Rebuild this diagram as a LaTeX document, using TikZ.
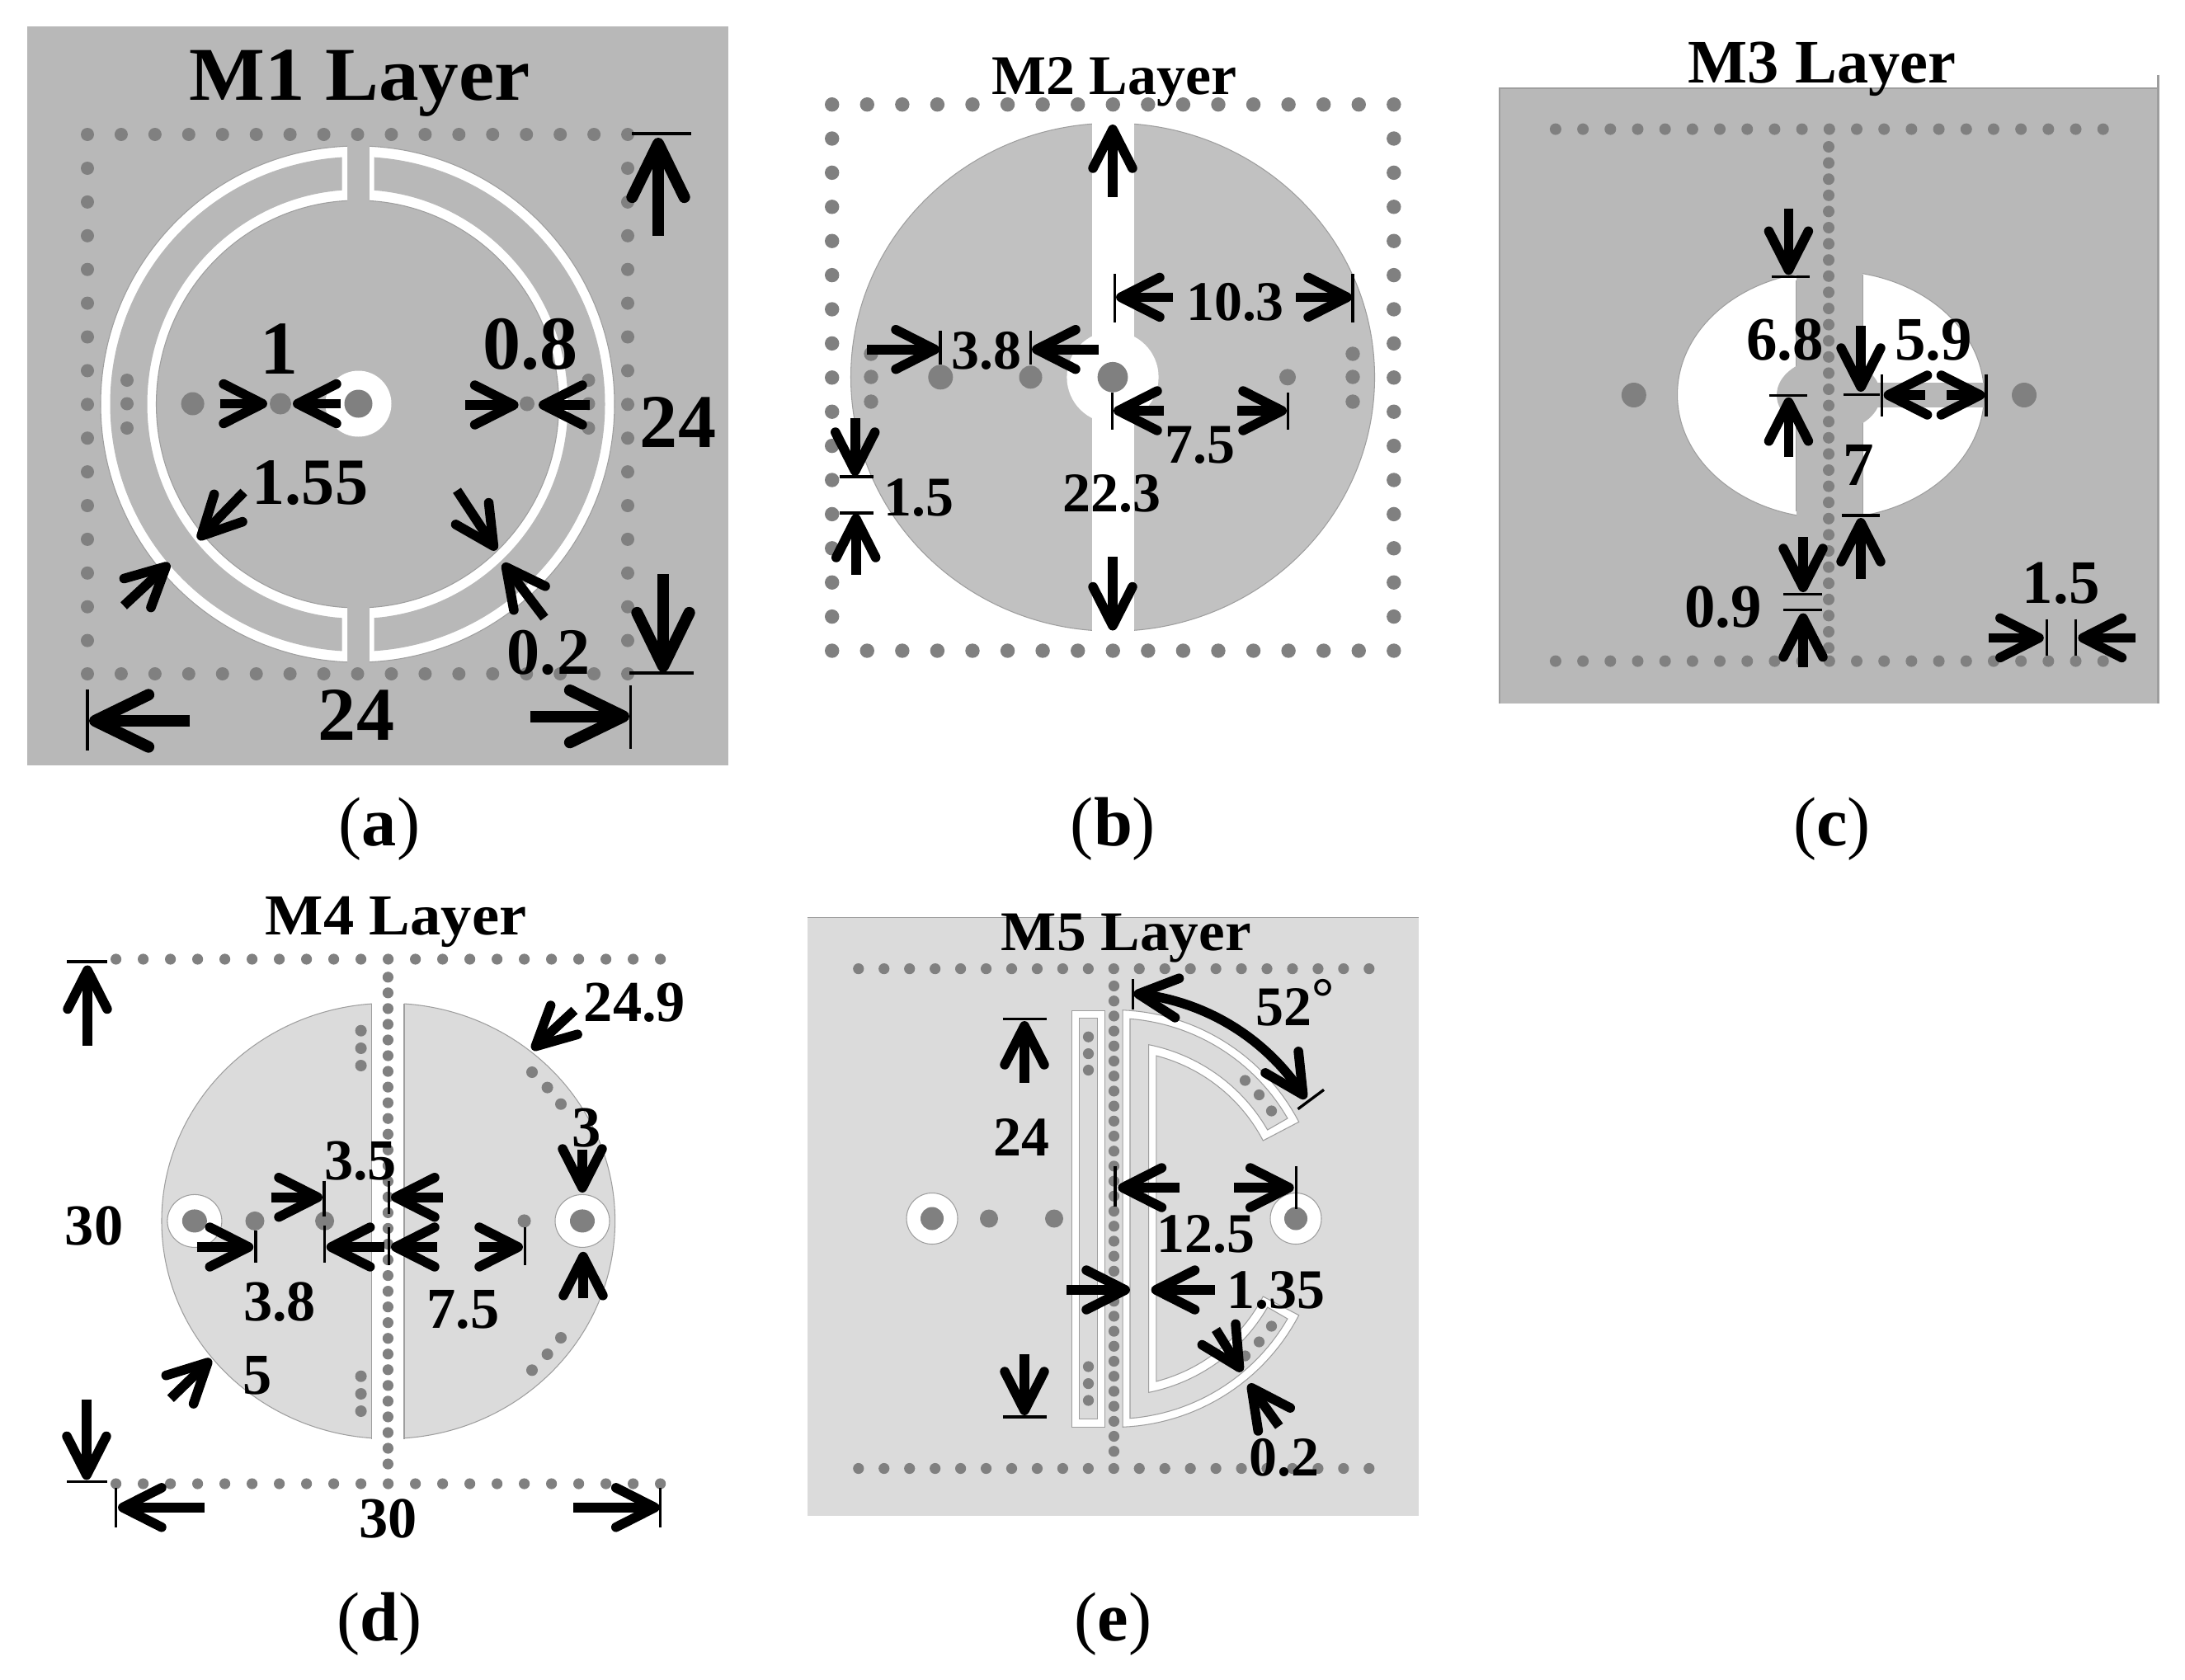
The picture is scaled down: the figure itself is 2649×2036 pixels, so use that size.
\documentclass[tikz,border=0pt]{standalone}
\usepackage{fontspec}
\setmainfont{Liberation Serif}
\usetikzlibrary{arrows.meta}
\definecolor{bgdark}{gray}{0.72}
\definecolor{bgmid}{gray}{0.755}
\definecolor{bglight}{gray}{0.86}
\definecolor{viac}{gray}{0.5}
\definecolor{edgec}{gray}{0.62}
\tikzset{
  via/.style={fill=viac},
  tick/.style={line width=0.95pt,black},
  bigarr/.style={line width=4pt,black,-{Straight Barb[length=18.5pt,width=18pt,round]}},
  midarr/.style={line width=3.3pt,black,-{Straight Barb[length=13.4pt,width=13.6pt,round]}},
  lbl/.style={anchor=base,inner sep=0pt,outer sep=0pt,text=black},
  la/.style={lbl,font=\fontsize{26.2pt}{30pt}\selectfont\bfseries},
  las/.style={lbl,font=\fontsize{22.8pt}{26pt}\selectfont\bfseries},
  lb/.style={lbl,font=\fontsize{19.3pt}{22pt}\selectfont\bfseries},
  lc/.style={lbl,font=\fontsize{21.3pt}{24pt}\selectfont\bfseries},
  ld/.style={lbl,font=\fontsize{20pt}{23pt}\selectfont\bfseries},
  le/.style={lbl,font=\fontsize{19.3pt}{22pt}\selectfont\bfseries},
  subcap/.style={lbl,font=\fontsize{24pt}{28pt}\selectfont},
}
\newcommand\viarow[6]{\foreach \k in {0,...,#5} \fill[via] ({#1+#3*\k},{#2+#4*\k}) circle[radius=#6];}
\begin{document}
\begin{tikzpicture}[x=0.01cm,y=-0.01cm]
\useasboundingbox[fill=white] (0,0) rectangle (2649,2036);

% ================= (a) M1
\fill[bgdark] (32.5,32) rectangle (883,928);
\begin{scope}
  \clip (100,100) rectangle (421,880);
  \path[fill=white,draw=edgec,line width=.3pt,even odd rule] (433.5,490) ellipse[x radius=311.5,y radius=313] (433.5,490) ellipse[x radius=244,y radius=247];
\end{scope}
\begin{scope}
  \clip (448,100) rectangle (780,880);
  \path[fill=white,draw=edgec,line width=.3pt,even odd rule] (433.5,490) ellipse[x radius=311.5,y radius=313] (433.5,490) ellipse[x radius=244,y radius=247];
\end{scope}
\begin{scope}
  \clip (100,100) rectangle (414.5,880);
  \path[fill=bgdark,even odd rule] (433.5,490) ellipse[x radius=300,y radius=300] (433.5,490) ellipse[x radius=255,y radius=260];
\end{scope}
\begin{scope}
  \clip (453.5,100) rectangle (780,880);
  \path[fill=bgdark,even odd rule] (433.5,490) ellipse[x radius=300,y radius=300] (433.5,490) ellipse[x radius=255,y radius=260];
\end{scope}
\viarow{106}{163}{40.94}{0}{16}{8}
\viarow{106}{817}{40.94}{0}{16}{8}
\viarow{106}{204}{0}{40.9}{14}{8}
\viarow{761}{204}{0}{40.9}{14}{8}
\fill[white] (434.5,489.5) circle[radius=40];
\fill[via] (434.5,489.5) circle[radius=17];
\fill[via] (233.6,489.5) circle[radius=14];
\fill[via] (340,489.5) circle[radius=13];
\fill[via] (639,489.5) circle[radius=9];
\foreach \yy in {461,489.5,519}{\fill[via] (154,\yy) circle[radius=8];\fill[via] (713.5,\yy) circle[radius=8];}
\draw[tick] (766,162) -- (838,162);
\draw[tick] (763,816) -- (841,816);
\draw[tick] (106,836) -- (106,910);
\draw[tick] (764.6,831) -- (764.6,908);
\draw[bigarr] (798,286) -- (798,167);
\draw[bigarr] (804,696) -- (804,815);
\draw[bigarr] (230,874) -- (108,874);
\draw[bigarr] (643,868.6) -- (763,868.6);
\draw[midarr] (267,489.5) -- (324,489.5);
\draw[midarr] (413,489.5) -- (355,489.5);
\draw[midarr] (564,491) -- (628.6,491);
\draw[midarr] (715,491) -- (653,491);
\draw[midarr] (295.6,596.6) -- (240,654);
\draw[midarr] (150,734.5) -- (205.5,683);
\draw[midarr] (554,594.6) -- (601.6,667);
\draw[midarr] (660,749) -- (610,683);
\node[la,xscale=1.056] (ta) at (436,121.5) {M1 Layer};
\node[la] (a1) at (339,453) {1};
\node[la] (a2) at (643,447) {0.8};
\node[la] (a3) at (822,542) {24};
\node[las] (a4) at (376,611) {1.55};
\node[las] (a5) at (665,817) {0.2};
\node[la] (a6) at (432,897) {24};
\node[subcap] (capa) at (460,1025) {(\textbf{a})};

% ================= (b) M2
\fill[bgmid] (1349,457.3) ellipse[x radius=317.5,y radius=308];
\draw[edgec,line width=.3pt] (1349,457.3) ellipse[x radius=317.5,y radius=308];
\fill[white] (1324,140) rectangle (1374.5,775);
\fill[white] (1349,457.3) circle[radius=55.6];
\viarow{1008.7}{126.7}{42.57}{0}{16}{8.7}
\viarow{1008.7}{789}{42.57}{0}{16}{8.7}
\viarow{1008.7}{168}{0}{41.4}{14}{8.7}
\viarow{1689.8}{168}{0}{41.4}{14}{8.7}
\fill[via] (1349,457.3) circle[radius=18.4];
\fill[via] (1140.3,457.3) circle[radius=15];
\fill[via] (1249.5,457.3) circle[radius=14];
\fill[via] (1561,457.3) circle[radius=10];
\foreach \yy in {429,457,487}{\fill[via] (1056,\yy) circle[radius=8.7];\fill[via] (1640,\yy) circle[radius=8.7];}
\draw[tick] (1351.5,332) -- (1351.5,391);
\draw[tick] (1640,332) -- (1640,391);
\draw[tick] (1140,401) -- (1140,442);
\draw[tick] (1249.5,401) -- (1249.5,442);
\draw[tick] (1348.5,476) -- (1348.5,521);
\draw[tick] (1561.7,476) -- (1561.7,521);
\draw[tick] (1018,578) -- (1058.7,578);
\draw[tick] (1018,622) -- (1058.7,622);
\draw[midarr] (1349,239) -- (1349,151);
\draw[midarr] (1349,675) -- (1349,764.5);
\draw[midarr] (1422,360.4) -- (1353,360.4);
\draw[midarr] (1571,360.4) -- (1639,360.4);
\draw[midarr] (1051,423.7) -- (1139,423.7);
\draw[midarr] (1331.6,423.7) -- (1251,423.7);
\draw[midarr] (1410.7,498) -- (1350,498);
\draw[midarr] (1500,498) -- (1560,498);
\draw[midarr] (1036.7,507) -- (1036.7,577);
\draw[midarr] (1037.7,696.6) -- (1037.7,623);
\node[lb,xscale=1.03] (tb) at (1351,114) {M2 Layer};
\node[lb] (b1) at (1497.5,388) {10.3};
\node[lb] (b2) at (1196,447) {3.8};
\node[lb] (b3) at (1455,561.4) {7.5};
\node[lb] (b4) at (1114,625.7) {1.5};
\node[lb] (b5) at (1348,620.6) {22.3};
\node[subcap] (capb) at (1349.5,1025) {(\textbf{b})};

% ================= (c) M3
\fill[bgdark] (1818.4,106.7) rectangle (2616.5,853);
\draw[edgec,line width=.6pt] (1818.4,853) -- (1818.4,106.7) -- (2616.5,106.7);
\draw[edgec,line width=.6pt] (2616.5,90.5) -- (2616.5,853);
\path[fill=white,draw=edgec,line width=.3pt] (2219.5,478.5) ellipse[x radius=186,y radius=150];
\fill[bgdark] (2177.7,320) rectangle (2258.3,640);
\draw[edgec,line width=.3pt] (2177.7,340) -- (2177.7,620) (2258.3,333) -- (2258.3,624);
\path[fill=bgdark] (2217,479) ellipse[x radius=63,y radius=45];
\fill[bgdark] (2270,464) rectangle (2405,494);
\viarow{1885.9}{156.6}{33.19}{0}{20}{7}
\viarow{1885.9}{801.6}{33.19}{0}{20}{7}
\viarow{2217}{178}{0}{19.6}{31}{7}
\fill[via] (1980.8,479) circle[radius=15];
\fill[via] (2454,479) circle[radius=15];
\draw[tick] (2147.5,335.4) -- (2194,335.4);
\draw[tick] (2144.8,479.6) -- (2191.4,479.6);
\draw[tick] (2235,478.5) -- (2279,478.5);
\draw[tick] (2281.4,453.6) -- (2281.4,505);
\draw[tick] (2408,453.6) -- (2408,505);
\draw[tick] (2232.5,625) -- (2279,625);
\draw[tick] (2162,720.8) -- (2209,720.8);
\draw[tick] (2162,739.8) -- (2209,739.8);
\draw[tick] (2481.6,750.6) -- (2481.6,795);
\draw[tick] (2516.7,750.6) -- (2516.7,795);
\draw[midarr] (2168.4,253) -- (2168.4,333.3);
\draw[midarr] (2168.4,554) -- (2168.4,481.8);
\draw[midarr] (2256,395) -- (2256,475);
\draw[midarr] (2334,479) -- (2283.6,479);
\draw[midarr] (2360,479) -- (2406.4,479);
\draw[midarr] (2256,702) -- (2256,628);
\draw[midarr] (2186,651.4) -- (2186,718);
\draw[midarr] (2186,808.6) -- (2186,743.6);
\draw[midarr] (2410.8,773.4) -- (2477.8,773.4);
\draw[midarr] (2589,773.4) -- (2519.4,773.4);
\node[lc,xscale=1.02] (tc) at (2209,100) {M3 Layer};
\node[lc] (c1) at (2164,436) {6.8};
\node[lc] (c2) at (2344,436) {5.9};
\node[lc] (c3) at (2253,588) {7};
\node[lc] (c4) at (2088.8,760) {0.9};
\node[lc] (c5) at (2498.6,731) {1.5};
\node[subcap] (capc) at (2221,1025) {(\textbf{c})};

% ================= (d) M4
\path[fill=bglight,draw=edgec,line width=.3pt] (470.8,1480.4) ellipse[x radius=274.8,y radius=264];
\fill[white] (450.8,1205) rectangle (490,1755);
\draw[edgec,line width=.3pt] (450.8,1216.5) -- (450.8,1744.5) (490,1216.5) -- (490,1744.5);
\viarow{140.6}{1163}{33}{0}{20}{6.6}
\viarow{140.6}{1799}{33}{0}{20}{6.6}
\viarow{470.4}{1184.8}{0}{19.04}{31}{6.6}
\path[fill=white,draw=edgec,line width=.3pt] (235.9,1480.4) ellipse[x radius=33,y radius=32];
\path[fill=white,draw=edgec,line width=.3pt] (706,1480.4) ellipse[x radius=33,y radius=32];
\fill[via] (235.9,1480.4) ellipse[x radius=15,y radius=14];
\fill[via] (706,1480.4) ellipse[x radius=15,y radius=14];
\fill[via] (309,1480.4) circle[radius=11.5];
\fill[via] (393.6,1480.4) circle[radius=11.5];
\fill[via] (635.6,1480.4) circle[radius=8];
\foreach \yy in {1249.7,1271,1292,1668.7,1690,1711}{\fill[via] (437.6,\yy) circle[radius=7];}
\foreach \xx/\yy in {645/1300,663.6/1318.6,680/1338.7,645/1661.3,663.6/1642,680/1622}{\fill[via] (\xx,\yy) circle[radius=7];}
\draw[tick] (81,1166) -- (130,1166);
\draw[tick] (81,1796.7) -- (130,1796.7);
\draw[tick] (140.6,1803.6) -- (140.6,1852);
\draw[tick] (800.7,1803.6) -- (800.7,1852);
\draw[tick] (393,1431.7) -- (393,1474.7);
\draw[tick] (471.4,1431.7) -- (471.4,1472);
\draw[tick] (310,1492) -- (310,1531);
\draw[tick] (393.6,1486) -- (393.6,1531);
\draw[tick] (471.4,1488) -- (471.4,1534);
\draw[tick] (636.6,1488) -- (636.6,1534);
\draw[midarr] (106,1268) -- (106,1170.5);
\draw[midarr] (105,1697) -- (105,1794.4);
\draw[midarr] (247.5,1827.8) -- (143,1827.8);
\draw[midarr] (695.4,1827.8) -- (799.7,1827.8);
\draw[midarr] (328.5,1451.7) -- (391,1451.7);
\draw[midarr] (536.6,1451.7) -- (474,1451.7);
\draw[midarr] (238.5,1512) -- (307.3,1512);
\draw[midarr] (466,1512) -- (395.7,1512);
\draw[midarr] (529.7,1512) -- (474,1512);
\draw[midarr] (581,1512) -- (634,1512);
\draw[midarr] (706,1394) -- (706,1446);
\draw[midarr] (707,1574) -- (707,1517.8);
\draw[midarr] (696.4,1225) -- (645,1272.6);
\draw[midarr] (206.8,1695.7) -- (256,1648);
\node[ld,xscale=1.06] (td) at (480,1133) {M4 Layer};
\node[ld] (d1) at (114,1509) {30};
\node[ld] (d2) at (470.4,1864) {30};
\node[ld] (d3) at (437,1430.5) {3.5};
\node[ld] (d4) at (339,1601) {3.8};
\node[ld] (d5) at (561.4,1610.8) {7.5};
\node[ld] (d6) at (769.5,1238.2) {24.9};
\node[ld] (d7) at (711,1390) {3};
\node[ld] (d8) at (311.6,1690) {5};
\node[subcap] (capd) at (460,1989) {(\textbf{d})};

% ================= (e) M5
\fill[bglight] (978.7,1112.4) rectangle (1720,1837.8);
\draw[edgec,line width=.5pt] (978.7,1112.4) -- (1720,1112.4);
\path[fill=white,draw=edgec,line width=.3pt] (1299.6,1225.3) rectangle (1339.9,1730.3);
\path[fill=bglight,draw=edgec,line width=.3pt] (1308.8,1234.3) rectangle (1330.6,1720.8);
\def\ecx{1350.5}\def\ecy{1477.5}
\path[fill=white,draw=edgec,line width=.3pt]
  plot[domain=87.6:27.6,samples=30] ({\ecx+253*cos(\x)},{\ecy-253*sin(\x)})
  -- plot[domain=27.6:75.4,samples=30] ({\ecx+204*cos(\x)},{\ecy-204*sin(\x)})
  -- plot[domain=-75.4:-27.6,samples=30] ({\ecx+204*cos(\x)},{\ecy-204*sin(\x)})
  -- plot[domain=-27.6:-87.6,samples=30] ({\ecx+253*cos(\x)},{\ecy-253*sin(\x)}) -- cycle;
\path[fill=bglight,draw=edgec,line width=.3pt]
  plot[domain=85.4:30,samples=30] ({\ecx+243*cos(\x)},{\ecy-243*sin(\x)})
  -- plot[domain=30:78.7,samples=30] ({\ecx+215*cos(\x)},{\ecy-215*sin(\x)})
  -- plot[domain=-78.7:-30,samples=30] ({\ecx+215*cos(\x)},{\ecy-215*sin(\x)})
  -- plot[domain=-30:-85.4,samples=30] ({\ecx+243*cos(\x)},{\ecy-243*sin(\x)}) -- cycle;
\viarow{1040.8}{1174.6}{30.95}{0}{20}{6.6}
\viarow{1040.8}{1780.5}{30.95}{0}{20}{6.6}
\viarow{1350.5}{1195.5}{0}{18.2}{31}{6.6}
\foreach \yy in {1257.2,1277.6,1297.5,1657,1677.6,1698}{\fill[via] (1319.5,\yy) circle[radius=6.6];}
\foreach \xx/\yy in {1509.5/1310,1526.5/1327.5,1541.5/1347,1509.5/1644,1526.5/1627,1541.5/1608}{\fill[via] (\xx,\yy) circle[radius=6.6];}
\path[fill=white,draw=edgec,line width=.3pt] (1130,1477.5) circle[radius=31];
\path[fill=white,draw=edgec,line width=.3pt] (1571,1477.5) circle[radius=31];
\fill[via] (1130,1477.5) circle[radius=14];
\fill[via] (1571,1477.5) circle[radius=14];
\fill[via] (1199,1477.5) circle[radius=11];
\fill[via] (1278,1477.5) circle[radius=11];
\draw[tick] (1215.8,1235.8) -- (1269,1235.8);
\draw[tick] (1215.8,1717.9) -- (1269,1717.9);
\draw[tick] (1352,1414) -- (1352,1463);
\draw[tick] (1571.5,1414) -- (1571.5,1465.6);
\draw[tick] (1373.8,1187) -- (1373.8,1224.3);
\draw[tick] (1573.5,1344.7) -- (1605,1321.3);
\draw[midarr] (1242,1312.9) -- (1242,1238);
\draw[midarr] (1242,1642) -- (1242,1716);
\draw[midarr] (1429.5,1440) -- (1355.4,1440);
\draw[midarr] (1496,1440) -- (1568.7,1440);
\draw[midarr] (1293,1564) -- (1370,1564);
\draw[midarr] (1472.7,1564) -- (1395.6,1564);
\draw[midarr] (1550.7,1729.3) -- (1513.9,1678);
\draw[midarr] (1474,1612) -- (1505.6,1663);
\draw[line width=3.3pt,black,{Straight Barb[length=13.4pt,width=13.6pt,round]}-{Straight Barb[length=13.4pt,width=13.6pt,round]}]
  plot[domain=85:32,samples=30] ({\ecx+274*cos(\x)},{\ecy-274*sin(\x)});
\node[le,xscale=1.05] (te) at (1365.3,1152) {M5 Layer};
\node[le,anchor=base west] (e1) at (1522.6,1243) {52\raisebox{0.16em}{°}};
\node[le] (e2) at (1238,1401) {24};
\node[le] (e3) at (1462,1518) {12.5};
\node[le] (e4) at (1546.8,1586.5) {1.35};
\node[le] (e5) at (1556.5,1789) {0.2};
\node[subcap] (cape) at (1349.5,1989) {(\textbf{e})};
\end{tikzpicture}
\end{document}
